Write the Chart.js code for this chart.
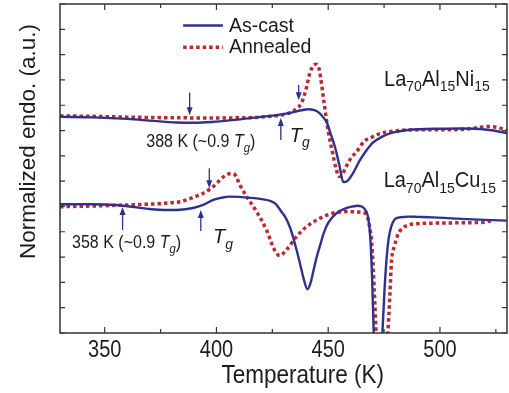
<!DOCTYPE html>
<html lang="en">
<head>
<meta charset="UTF-8">
<title>DSC traces - La70Al15Ni15 / La70Al15Cu15</title>
<script src="https://cdn.jsdelivr.net/npm/chart.js"></script>
<style>
  html, body { margin: 0; padding: 0; background: #fff; }
  #wrap { width: 509px; height: 393px; position: relative; }
</style>
</head>
<body>
<div id="wrap"><canvas id="dscChart"></canvas></div>
<script>
// Temperatures (K) and normalized endo signal (a.u.)
const niCastT = [330, 345, 360, 372, 382, 390, 398, 406, 414, 420, 426, 431, 435, 438, 441, 443.5, 446, 448, 449.5, 451, 453, 455, 456.8, 458.5, 461, 464, 467, 470, 474, 478, 482, 487, 493, 500, 510, 518, 524, 530];
const niCastY = [8.04, 8.02, 7.96, 7.88, 7.82, 7.81, 7.84, 7.9, 7.98, 8.04, 8.1, 8.17, 8.24, 8.3, 8.34, 8.32, 8.2, 8.0, 7.8, 7.4, 6.86, 6.13, 5.46, 5.5, 5.8, 6.3, 6.7, 7.02, 7.25, 7.4, 7.47, 7.53, 7.56, 7.57, 7.58, 7.56, 7.5, 7.39];

const niAnnT = [330, 345, 360, 375, 390, 405, 418, 426, 431, 434, 436, 438, 440, 442, 444.5, 446, 448, 450, 452, 453.5, 455, 456.5, 458, 460.5, 462.6, 466, 470, 474, 478, 485, 492, 500, 508, 514, 518, 522, 526, 530];
const niAnnY = [8.08, 8.06, 8.03, 8.01, 8.0, 8.0, 8.02, 8.08, 8.15, 8.25, 8.38, 8.58, 9.1, 9.83, 10.12, 9.9, 8.7, 7.48, 6.6, 6.0, 5.68, 5.8, 6.07, 6.45, 6.65, 7.06, 7.26, 7.4, 7.46, 7.52, 7.53, 7.53, 7.54, 7.58, 7.63, 7.66, 7.62, 7.5];

const cuCastT = [330, 345, 355, 362, 370, 378, 385, 390, 394, 398.6, 402, 406, 410, 414, 418, 421, 424, 426.5, 429, 431, 433, 435.5, 437.5, 439, 440.7, 442, 443.5, 445, 446.5, 448, 450, 453.5, 458, 461, 463, 465, 466.5, 467.8, 468.8, 469.6, 470.4, 472.2, 474.2, 475.2, 476, 477, 478.2, 480.4, 483, 486, 490, 497, 505, 512, 520, 530];
const cuCastY = [4.59, 4.59, 4.56, 4.49, 4.4, 4.36, 4.38, 4.45, 4.56, 4.76, 4.84, 4.89, 4.88, 4.85, 4.82, 4.78, 4.72, 4.6, 4.3, 4.05, 3.65, 2.9, 2.2, 1.65, 1.23, 1.45, 2.0, 2.55, 3.0, 3.45, 3.85, 4.22, 4.43, 4.5, 4.53, 4.5, 4.38, 4.1, 3.3, 1.8, -0.6, -4, -0.6, 1.2, 2.3, 3.2, 3.7, 4.03, 4.08, 4.1, 4.09, 4.07, 4.03, 4.0, 3.97, 3.94];

const cuAnnT = [330, 345, 360, 372, 380, 384, 389.6, 393.5, 397, 400, 401.6, 403.5, 405.2, 407, 408.3, 410.5, 413.5, 418, 422.4, 426, 428.3, 431.3, 435.8, 440.3, 446.2, 452, 458, 463, 465.5, 467.3, 468.5, 469.5, 470.6, 471.6, 474, 476.5, 477.6, 478.3, 479.7, 481, 482.7, 486, 490, 497, 505, 512, 519, 522, 524];
const cuAnnY = [4.49, 4.52, 4.56, 4.6, 4.65, 4.69, 4.86, 5.0, 5.18, 5.4, 5.55, 5.7, 5.78, 5.79, 5.75, 5.35, 4.89, 4.29, 3.57, 2.78, 2.56, 2.78, 3.31, 3.7, 4.03, 4.23, 4.3, 4.28, 4.26, 4.15, 3.7, 3.05, 1.2, -0.8, -4, -0.8, 1.0, 2.3, 2.95, 3.35, 3.6, 3.77, 3.82, 3.84, 3.85, 3.86, 3.87, 3.92, 3.9];

const seriesLabels = ['As-cast', 'Annealed'];
const xMajorTicks = [350, 400, 450, 500];
const xMinorTicks = [375, 425, 475, 525];

// arrows: [temperature, tail, tip]
const arrows = [
  [388, 9.0, 8.1],
  [428.8, 7.13, 8.0],
  [436.8, 9.3, 8.7],
  [358, 3.57, 4.48],
  [393, 3.53, 4.36],
  [396.8, 6.01, 5.22]
];

const blue = '#2e3192';
const red = '#c1272d';
const ink = '#1c1c1c';
const family = '"Liberation Sans", Arial, Helvetica, sans-serif';

function pts(ts, ys) {
  return ts.map((t, i) => ({ x: t, y: ys[i] }));
}

function castSet(label, data) {
  return { label, data, borderColor: blue, borderWidth: 2.4, pointRadius: 0, cubicInterpolationMode: 'monotone', clip: 0 };
}
function annSet(label, data) {
  return { label, data, borderColor: red, borderWidth: 3.5, borderDash: [3.5, 3], borderCapStyle: 'butt', pointRadius: 0, cubicInterpolationMode: 'monotone', clip: 0 };
}

// text made of pieces (italic T, subscript g ...), sy stretches it vertically
function richText(ctx, x, y, parts, size, sy) {
  ctx.save();
  ctx.translate(x, y);
  ctx.scale(1, sy || 1);
  let cx = 0;
  parts.forEach(p => {
    const fs = p.sub ? size * 0.7 : size;
    ctx.font = (p.italic ? 'italic ' : '') + fs + 'px ' + family;
    ctx.fillText(p.t, cx, p.sub ? size * 0.26 : 0);
    cx += ctx.measureText(p.t).width;
  });
  ctx.restore();
}

function plainText(ctx, text, x, y, size, sy) {
  ctx.save();
  ctx.translate(x, y);
  ctx.scale(1, sy || 1);
  ctx.font = size + 'px ' + family;
  ctx.fillText(text, 0, 0);
  ctx.restore();
}

const frame = {
  id: 'frame',
  afterDraw(chart) {
    const { ctx, chartArea: a, scales: { x, y } } = chart;
    ctx.save();
    ctx.strokeStyle = '#333';
    ctx.lineWidth = 1.5;
    ctx.strokeRect(a.left, a.top, a.right - a.left, a.bottom - a.top);
    ctx.lineWidth = 1.2;
    ctx.beginPath();
    xMajorTicks.concat(xMinorTicks).forEach(v => {
      const len = xMajorTicks.includes(v) ? 6 : 4;
      const px = x.getPixelForValue(v);
      ctx.moveTo(px, a.bottom); ctx.lineTo(px, a.bottom - len);
      ctx.moveTo(px, a.top); ctx.lineTo(px, a.top + len);
    });
    y.ticks.forEach(t => {
      const py = y.getPixelForValue(t.value);
      ctx.moveTo(a.left, py); ctx.lineTo(a.left + 5, py);
      ctx.moveTo(a.right, py); ctx.lineTo(a.right - 5, py);
    });
    ctx.stroke();

    // x tick labels and axis titles
    ctx.fillStyle = ink;
    ctx.textBaseline = 'alphabetic';
    ctx.textAlign = 'center';
    xMajorTicks.forEach(v => plainText(ctx, String(v), x.getPixelForValue(v), a.bottom + 23.5, 20, 1.16));
    ctx.textAlign = 'left';
    plainText(ctx, 'Temperature (K)', 221.5, 383, 22.5, 1.14);

    ctx.translate(35, 141.5);
    ctx.rotate(-Math.PI / 2);
    ctx.textAlign = 'center';
    ctx.font = '22.5px ' + family;
    ctx.fillText('Normalized endo. (a.u.)', 0, 0);
    ctx.restore();
  }
};

const notes = {
  id: 'notes',
  afterDatasetsDraw(chart) {
    const { ctx, scales: { x, y } } = chart;
    ctx.save();

    // arrows
    ctx.strokeStyle = blue;
    ctx.fillStyle = blue;
    ctx.lineWidth = 1.3;
    arrows.forEach(([t, from, to]) => {
      const px = x.getPixelForValue(t);
      const p1 = y.getPixelForValue(from);
      const p2 = y.getPixelForValue(to);
      const dir = p2 > p1 ? 1 : -1;
      ctx.beginPath();
      ctx.moveTo(px, p1);
      ctx.lineTo(px, p2 - dir * 6);
      ctx.stroke();
      ctx.beginPath();
      ctx.moveTo(px, p2);
      ctx.lineTo(px - 3, p2 - dir * 8);
      ctx.lineTo(px + 3, p2 - dir * 8);
      ctx.closePath();
      ctx.fill();
    });

    ctx.fillStyle = ink;
    ctx.textBaseline = 'alphabetic';
    ctx.textAlign = 'left';
    const tg = [{ t: 'T', italic: true }, { t: 'g', italic: true, sub: true }];
    richText(ctx, x.getPixelForValue(368.6), y.getPixelForValue(6.84),
      [{ t: '388 K (~0.9 ' }].concat(tg, [{ t: ')' }]), 16, 1.15);
    richText(ctx, x.getPixelForValue(335.4), y.getPixelForValue(2.85),
      [{ t: '358 K (~0.9 ' }].concat(tg, [{ t: ')' }]), 16, 1.15);
    richText(ctx, x.getPixelForValue(432.8), y.getPixelForValue(7.06), tg, 20, 1.05);
    richText(ctx, x.getPixelForValue(398.5), y.getPixelForValue(3.05), tg, 20, 1.05);

    richText(ctx, x.getPixelForValue(475), y.getPixelForValue(9.27),
      [{ t: 'La' }, { t: '70', sub: true }, { t: 'Al' }, { t: '15', sub: true }, { t: 'Ni' }, { t: '15', sub: true }], 20, 1.08);
    richText(ctx, x.getPixelForValue(474.8), y.getPixelForValue(5.26),
      [{ t: 'La' }, { t: '70', sub: true }, { t: 'Al' }, { t: '15', sub: true }, { t: 'Cu' }, { t: '15', sub: true }], 20, 1.08);

    // legend
    const lx1 = x.getPixelForValue(385.1), lx2 = x.getPixelForValue(402.9), tx = x.getPixelForValue(405.6);
    [[0, 11.65, 11.41], [1, 10.79, 10.56]].forEach(([i, ly, ty]) => {
      const ds = chart.data.datasets[i];
      const py = y.getPixelForValue(ly);
      ctx.save();
      ctx.strokeStyle = ds.borderColor;
      ctx.lineWidth = ds.borderWidth;
      ctx.setLineDash(ds.borderDash || []);
      ctx.beginPath();
      ctx.moveTo(lx1, py);
      ctx.lineTo(lx2, py);
      ctx.stroke();
      ctx.restore();
      plainText(ctx, seriesLabels[i], tx, y.getPixelForValue(ty), 19.5, 1);
    });

    ctx.restore();
  }
};

new Chart(document.getElementById('dscChart'), {
  type: 'line',
  data: {
    datasets: [
      castSet(seriesLabels[0], pts(niCastT, niCastY)),
      annSet(seriesLabels[1], pts(niAnnT, niAnnY)),
      castSet(seriesLabels[0], pts(cuCastT, cuCastY)),
      annSet(seriesLabels[1], pts(cuAnnT, cuAnnY))
    ]
  },
  options: {
    responsive: true,
    maintainAspectRatio: false,
    animation: false,
    layout: { padding: { top: 4, right: 2, left: 0, bottom: 0 } },
    plugins: { legend: { display: false }, tooltip: { enabled: false } },
    scales: {
      x: {
        type: 'linear',
        min: 330,
        max: 530,
        afterFit: s => { s.height = 60; },
        afterBuildTicks: s => { s.ticks = xMajorTicks.map(v => ({ value: v })); },
        grid: { display: false, drawTicks: false },
        border: { display: false },
        ticks: { display: false }
      },
      y: {
        min: -0.5,
        max: 12.5,
        afterFit: s => { s.width = 60; },
        grid: { display: false, drawTicks: false },
        border: { display: false },
        ticks: { display: false, stepSize: 1 }
      }
    }
  },
  plugins: [frame, notes]
});
</script>
</body>
</html>
